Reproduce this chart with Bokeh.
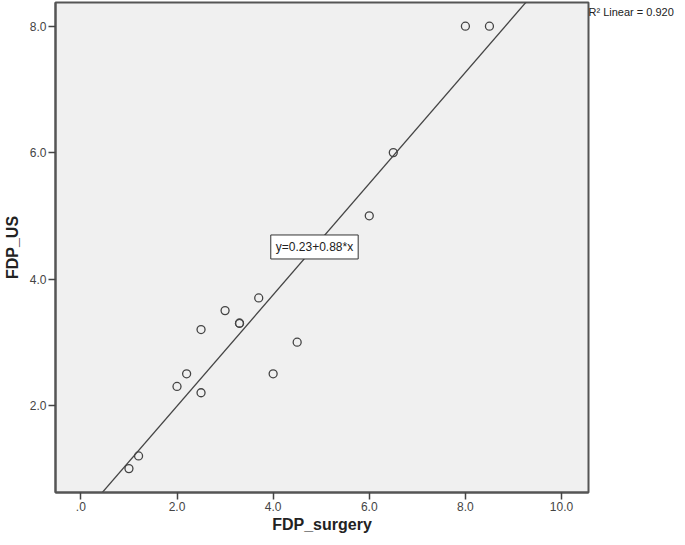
from bokeh.plotting import figure
from bokeh.models import Label, FixedTicker, ColumnDataSource, Range1d, LinearAxis
from bokeh.embed import file_html
from bokeh.resources import INLINE

# ---- data ----
fdp_surgery = [1.0, 1.2, 2.0, 2.2, 2.5, 2.5, 3.0, 3.3, 3.3, 3.7, 4.0, 4.5, 6.0, 6.5, 8.0, 8.5]
fdp_us      = [1.0, 1.2, 2.3, 2.5, 2.2, 3.2, 3.5, 3.3, 3.3, 3.7, 2.5, 3.0, 5.0, 6.0, 8.0, 8.0]
intercept = 0.23
slope = 0.88
r2 = 0.920
x_ticks = [0, 2, 4, 6, 8, 10]
x_tick_labels = [".0", "2.0", "4.0", "6.0", "8.0", "10.0"]
y_ticks = [2, 4, 6, 8]
y_tick_labels = ["2.0", "4.0", "6.0", "8.0"]

FONT = "Liberation Sans"
X0, X1 = -0.528, 10.561
Y0, Y1 = 0.622, 8.375

p = figure(width=677, height=537, output_backend="svg", toolbar_location=None,
           x_range=Range1d(X0, X1), y_range=Range1d(Y0, Y1))
p.min_border_left = 52
p.min_border_right = 89
p.min_border_top = 2
p.min_border_bottom = 45

p.background_fill_color = "#f0f0f0"
p.border_fill_color = "white"
p.outline_line_color = "#555555"
p.outline_line_width = 2
p.grid.visible = False

for ax, ticks, labels in ((p.xaxis[0], x_ticks, x_tick_labels), (p.yaxis[0], y_ticks, y_tick_labels)):
    ax.ticker = FixedTicker(ticks=ticks)
    ax.major_label_overrides = {t: l for t, l in zip(ticks, labels)}
    ax.axis_line_color = "#555555"
    ax.axis_line_width = 2
    ax.major_tick_line_color = "#444444"
    ax.major_tick_line_width = 1.5
    ax.major_tick_out = 7
    ax.major_tick_in = 0
    ax.minor_tick_line_color = None
    ax.major_label_text_font = FONT
    ax.major_label_text_font_size = "12px"
    ax.major_label_text_color = "#444444"
    ax.major_label_standoff = 2
    ax.axis_label_text_font = FONT
    ax.axis_label_text_font_size = "16px"
    ax.axis_label_text_font_style = "bold"
    ax.axis_label_text_color = "#222222"

p.xaxis[0].axis_label = "FDP_surgery"
p.xaxis[0].axis_label_standoff = 2
p.yaxis[0].axis_label = "FDP_US"
p.yaxis[0].axis_label_standoff = 6

# R² note at top right, outside the frame (as a label-only axis)
r2_pos = 8.217
r2_axis = LinearAxis(ticker=FixedTicker(ticks=[r2_pos]),
                     major_label_overrides={r2_pos: "R\u00b2 Linear = %.3f" % r2})
r2_axis.axis_line_color = None
r2_axis.major_tick_line_color = None
r2_axis.minor_tick_line_color = None
r2_axis.major_tick_out = 0
r2_axis.major_tick_in = 0
r2_axis.major_label_standoff = 0
r2_axis.major_label_text_font = FONT
r2_axis.major_label_text_font_size = "11px"
r2_axis.major_label_text_color = "#222222"
p.add_layout(r2_axis, "right")

# regression line from the fitted equation
lx = [X0, X1]
ly = [intercept + slope * v for v in lx]
p.line(lx, ly, line_color="#444444", line_width=1.3)

src = ColumnDataSource(dict(x=fdp_surgery, y=fdp_us))
p.scatter("x", "y", source=src, marker="circle", size=8, fill_color=None,
          line_color="#444444", line_width=1.3)

# equation box, centred on the line
ex = 4.86
p.add_layout(Label(x=ex, y=intercept + slope * ex,
                   text="y=%.2f+%.2f*x" % (intercept, slope),
                   text_align="center", text_baseline="middle",
                   text_font=FONT, text_font_size="12px", text_color="#222222",
                   background_fill_color="white", border_line_color="#333333",
                   border_line_width=1, padding=5))

open("out.html", "w").write(file_html(p, INLINE))
